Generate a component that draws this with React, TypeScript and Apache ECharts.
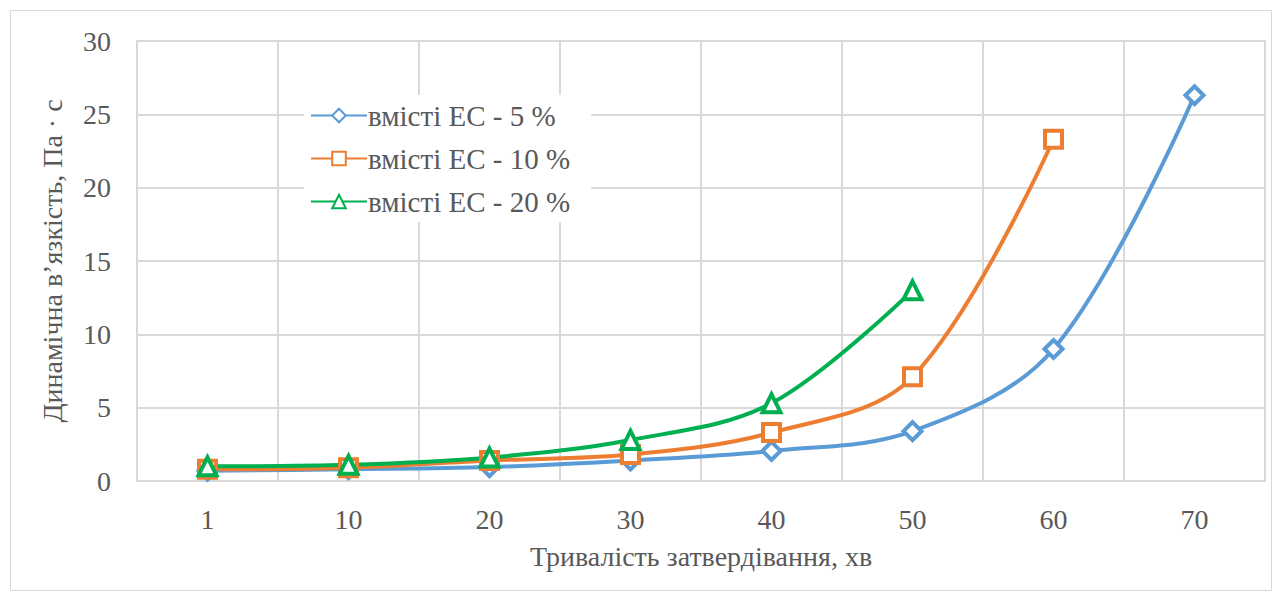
import React, { useEffect, useRef } from "react";
import * as echarts from "echarts";

// Тривалість затвердівання, хв
const categories = ["1", "10", "20", "30", "40", "50", "60", "70"];

// Динамічна в'язкість, Па · с
const ec5 = [0.7, 0.8, 0.95, 1.4, 2.05, 3.4, 9.0, 26.3];
const ec10 = [0.8, 0.9, 1.4, 1.8, 3.3, 7.1, 23.3];
const ec20 = [1.0, 1.1, 1.6, 2.8, 5.3, 13.0];

const yTicks = { min: 0, max: 30, interval: 5 };

const seriesNames = ["вмісті ЕС - 5 %", "вмісті ЕС - 10 %", "вмісті ЕС - 20 %"];

const FONT = "Liberation Serif";
const TEXT = "#595959";
const GRID = "#d9d9d9";

// Legend layout: the legend draws the line+marker icons and the white box,
// the entry labels are drawn as graphic texts next to them.
const LEGEND_LEFT = 304;
const LEGEND_TOP = 95;
const LEGEND_ROW = 43;

function lineSeries(name: string, data: number[], color: string, symbol: string, size: number) {
  return {
    name,
    type: "line",
    data,
    smooth: 0.35,
    symbol,
    symbolSize: size,
    showAllSymbol: true,
    lineStyle: { color, width: 4 },
    itemStyle: { color: "#ffffff", borderColor: color, borderWidth: 4 },
    z: 3,
  };
}

export default function App() {
  const ref = useRef<HTMLDivElement>(null);

  useEffect(() => {
    if (!ref.current) return;
    const chart = echarts.init(ref.current, undefined, { renderer: "svg" });
    chart.setOption({
      animation: false,
      backgroundColor: "#ffffff",
      textStyle: { fontFamily: FONT },
      graphic: [
        {
          type: "rect",
          shape: { x: 10.5, y: 10.5, width: 1261, height: 580 },
          style: { fill: "none", stroke: GRID, lineWidth: 1 },
          silent: true,
          z: -10,
        },
        ...seriesNames.map((name, i) => ({
          type: "text",
          x: LEGEND_LEFT + 64,
          y: LEGEND_TOP + 21 + i * LEGEND_ROW,
          z: 100,
          silent: true,
          style: {
            text: name,
            fontFamily: FONT,
            fontSize: 29,
            fill: TEXT,
            verticalAlign: "middle",
          },
        })),
      ],
      grid: { left: 137, right: 16, top: 41, bottom: 118, show: true, borderColor: GRID, borderWidth: 2 },
      legend: {
        orient: "vertical",
        left: LEGEND_LEFT,
        top: LEGEND_TOP,
        itemWidth: 56,
        itemHeight: 17,
        itemGap: 14,
        backgroundColor: "#ffffff",
        padding: [6, 212, 6, 6],
        formatter: () => " ",
        textStyle: { fontFamily: FONT, fontSize: 29, color: TEXT },
        data: seriesNames,
      },
      xAxis: {
        type: "category",
        data: categories,
        boundaryGap: true,
        axisLine: { show: true, lineStyle: { color: GRID, width: 2 } },
        axisTick: { show: false },
        splitLine: { show: true, lineStyle: { color: GRID, width: 2 } },
        axisLabel: { fontFamily: FONT, fontSize: 28, color: TEXT, margin: 24 },
        name: "Тривалість затвердівання, хв",
        nameLocation: "middle",
        nameGap: 61,
        nameTextStyle: { fontFamily: FONT, fontSize: 28, color: TEXT },
      },
      yAxis: {
        type: "value",
        min: yTicks.min,
        max: yTicks.max,
        interval: yTicks.interval,
        axisLine: { show: false },
        axisTick: { show: false },
        splitLine: { show: true, lineStyle: { color: GRID, width: 2 } },
        axisLabel: { fontFamily: FONT, fontSize: 28, color: TEXT, margin: 26 },
        name: "Динамічна в’язкість, Па · с",
        nameLocation: "middle",
        nameGap: 71,
        nameTextStyle: { fontFamily: FONT, fontSize: 28, color: TEXT },
      },
      series: [
        lineSeries(seriesNames[0], ec5, "#5B9BD5", "diamond", 18),
        lineSeries(seriesNames[1], ec10, "#ED7D31", "rect", 17),
        lineSeries(seriesNames[2], ec20, "#00B050", "triangle", 18),
      ],
    });
    return () => chart.dispose();
  }, []);

  return (
    <div
      ref={ref}
      style={{ position: "absolute", left: 0, top: 0, width: 1281, height: 599 }}
    />
  );
}
